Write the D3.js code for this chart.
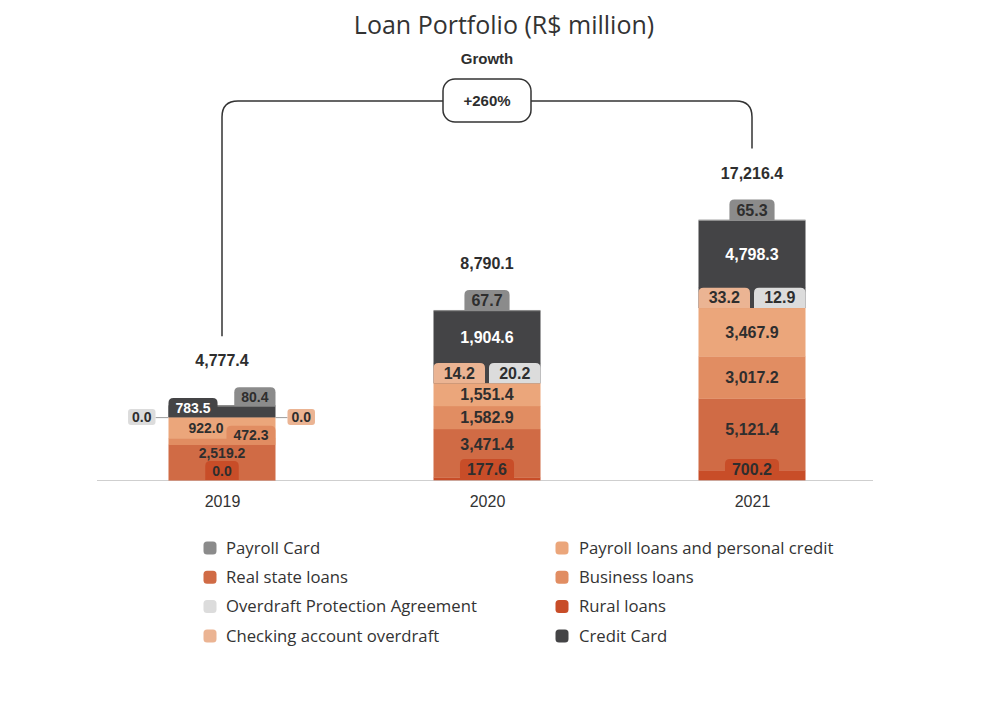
<!DOCTYPE html>
<html><head><meta charset="utf-8">
<script src="https://cdn.jsdelivr.net/npm/d3@7"></script>
<style>html,body{margin:0;padding:0;background:#fff;} svg{display:block}</style>
</head><body><svg id="chart" width="1008" height="716"></svg>
<script>
// ---------- data ----------
const years = ["2019", "2020", "2021"];
const ruralLoans = [0.0, 177.6, 700.2];
const realStateLoans = [2519.2, 3471.4, 5121.4];
const businessLoans = [472.3, 1582.9, 3017.2];
const payrollLoans = [922.0, 1551.4, 3467.9];
const checkingOverdraft = [0.0, 14.2, 33.2];
const overdraftProtection = [0.0, 20.2, 12.9];
const creditCard = [783.5, 1904.6, 4798.3];
const payrollCard = [80.4, 67.7, 65.3];
const totals = [4777.4, 8790.1, 17216.4];
const growthLabel = "+260%";
const legendLeft = ["Payroll Card", "Real state loans", "Overdraft Protection Agreement", "Checking account overdraft"];
const legendRight = ["Payroll loans and personal credit", "Business loans", "Rural loans", "Credit Card"];

// ---------- style ----------
const colors = {
  payrollCard: "#8b8b8b",
  realState: "#d06b45",
  overdraft: "#dcdcdc",
  checking: "#ebb493",
  payroll: "#eba67b",
  business: "#e18d62",
  rural: "#c84d28",
  credit: "#444446"
};
const legendLeftColors = [colors.payrollCard, colors.realState, colors.overdraft, colors.checking];
const legendRightColors = [colors.payroll, colors.business, colors.rural, colors.credit];
const place = {
  rural: ["tabC", "tabC", "tabC"],
  realState: ["in", "in", "in"],
  business: ["tabR", "in", "in"],
  payroll: ["inL", "in", "in"],
  credit: ["tabL", "in", "in"],
  payrollCard: ["tabR", "tabC", "tabC"]
};
const labelFont = "'Liberation Sans', Arial, Helvetica, sans-serif";
const textFont = "'Open Sans', 'Noto Sans', sans-serif";
const dark = "#2e2e2e";

const svg = d3.select("#chart");
const fmt = d3.format(",.1f");
const baseY = 480;
const x = d3.scalePoint().domain(years).range([222, 752]);
const y = d3.scaleLinear().domain([0, 18000]).range([baseY, 228]);
const barW = 107;

function topRound(x0, y0, w, h, r) {
  r = Math.min(r, h, w / 2);
  return `M${x0},${y0 + h}V${y0 + r}Q${x0},${y0} ${x0 + r},${y0}H${x0 + w - r}Q${x0 + w},${y0} ${x0 + w},${y0 + r}V${y0 + h}Z`;
}

// title
svg.append("text").attr("x", 504).attr("y", 34).attr("text-anchor", "middle")
  .attr("font-family", textFont).attr("font-size", 25).attr("fill", "#333")
  .text("Loan Portfolio (R$ million)");

// baseline + axis
svg.append("line").attr("x1", 97).attr("x2", 873).attr("y1", baseY + 0.5).attr("y2", baseY + 0.5)
  .attr("stroke", "#cfcfcf").attr("stroke-width", 1);
const axisG = svg.append("g").attr("transform", `translate(0,${baseY})`)
  .call(d3.axisBottom(x).tickSize(0).tickPadding(16));
axisG.select(".domain").remove();
axisG.selectAll("text").attr("font-family", labelFont).attr("font-size", 16).attr("fill", "#333");

const totalBase = [];

years.forEach((yr, i) => {
  const g = svg.append("g");
  const segLayer = g.append("g");
  const tabLayer = g.append("g");
  const labelLayer = g.append("g");
  const fs = i === 0 ? 14 : 16;
  const tabH = fs + 5;
  const minIn = fs + 7;
  const minDark = 52;
  const cx = x(yr);
  const x0 = cx - barW / 2, x1 = cx + barW / 2;
  let cur = baseY;
  let topMost = baseY;
  let obstacle = baseY;
  const hOf = v => baseY - y(v);

  function addTab(p, bottom, segTop, value, col, txtCol) {
    const tg = tabLayer.append("g");
    const path = tg.append("path").attr("fill", col);
    const t = tg.append("text").attr("font-family", labelFont).attr("font-weight", "bold")
      .attr("font-size", fs).attr("fill", txtCol).attr("text-anchor", "middle").text(fmt(value));
    const w = t.node().getComputedTextLength() + 14;
    const top = Math.min(segTop, bottom - tabH);
    let tx = p === "tabL" ? x0 : p === "tabR" ? x1 - w : cx - w / 2;
    path.attr("d", topRound(tx, top, w, bottom - top, 5));
    t.attr("x", tx + w / 2).attr("y", (top + bottom) / 2).attr("dy", "0.36em");
    topMost = Math.min(topMost, top);
    return top;
  }

  function addSeg(key, v, col, txtCol) {
    const p = place[key][i];
    let hh = hOf(v);
    const inside = p === "in" || p === "inL";
    if (inside) hh = Math.max(hh, key === "credit" ? minDark : minIn);
    const top = cur - hh;
    segLayer.append("rect").attr("x", x0).attr("y", top).attr("width", barW).attr("height", hh + 0.3).attr("fill", col);
    if (inside) {
      const bottom = Math.min(cur, obstacle);
      labelLayer.append("text").attr("x", p === "in" ? cx : x0 + barW * 0.35).attr("y", (top + bottom) / 2)
        .attr("dy", "0.36em").attr("text-anchor", "middle")
        .attr("font-family", labelFont).attr("font-weight", "bold").attr("font-size", fs)
        .attr("fill", txtCol).text(fmt(v));
      obstacle = baseY;
    } else {
      const tTop = addTab(p, cur, top, v, col, txtCol);
      obstacle = p === "tabC" ? tTop : baseY;
    }
    topMost = Math.min(topMost, top);
    cur = top;
  }

  addSeg("rural", ruralLoans[i], colors.rural, dark);
  addSeg("realState", realStateLoans[i], colors.realState, dark);
  addSeg("business", businessLoans[i], colors.business, dark);
  addSeg("payroll", payrollLoans[i], colors.payroll, dark);

  // checking / overdraft row
  const cv = checkingOverdraft[i], ov = overdraftProtection[i];
  if (cv + ov > 0) {
    const hh = Math.max(hOf(cv + ov), tabH - 1);
    const top = cur - hh;
    segLayer.append("rect").attr("x", x0).attr("y", top).attr("width", barW).attr("height", hh + 0.3).attr("fill", colors.credit);
    const gap = 4, w = (barW - gap) / 2;
    [[cv, colors.checking, x0], [ov, colors.overdraft, x0 + w + gap]].forEach(([v, col, tx]) => {
      tabLayer.append("path").attr("d", topRound(tx, top, w, hh + 0.3, 5)).attr("fill", col);
      labelLayer.append("text").attr("x", tx + w / 2).attr("y", top + hh / 2).attr("dy", "0.36em")
        .attr("text-anchor", "middle").attr("font-family", labelFont).attr("font-weight", "bold")
        .attr("font-size", fs).attr("fill", dark).text(fmt(v));
    });
    cur = top;
  } else {
    const ty = cur;
    [[ov, colors.overdraft, "left"], [cv, colors.checking, "right"]].forEach(([v, col, side]) => {
      const tg = tabLayer.append("g");
      const r = tg.append("rect").attr("fill", col).attr("rx", 3);
      const t = tg.append("text").attr("font-family", labelFont).attr("font-weight", "bold")
        .attr("font-size", fs).attr("fill", dark).attr("text-anchor", "middle").text(fmt(v));
      const w = t.node().getComputedTextLength() + 8, th = fs + 2;
      const rx0 = side === "left" ? x0 - 13 - w : x1 + 12;
      r.attr("x", rx0).attr("y", ty - th / 2).attr("width", w).attr("height", th);
      t.attr("x", rx0 + w / 2).attr("y", ty).attr("dy", "0.36em");
      tg.insert("line", ":first-child")
        .attr("x1", side === "left" ? rx0 + w : x1).attr("x2", side === "left" ? x0 : rx0)
        .attr("y1", ty + 0.5).attr("y2", ty + 0.5).attr("stroke", "#9a9a9a").attr("stroke-width", 1);
    });
  }

  addSeg("credit", creditCard[i], colors.credit, "#ffffff");
  addSeg("payrollCard", payrollCard[i], colors.payrollCard, dark);

  const tb = topMost - 21;
  totalBase.push(tb);
  svg.append("text").attr("x", cx).attr("y", tb).attr("text-anchor", "middle")
    .attr("font-family", labelFont).attr("font-weight", "bold").attr("font-size", 16)
    .attr("fill", dark).text(fmt(totals[i]));
});

// growth bracket
const xL = x(years[0]), xR = x(years[years.length - 1]);
const topY = 101, rr = 16;
svg.append("path")
  .attr("d", `M${xL},${totalBase[0] - 30}V${topY + rr}Q${xL},${topY} ${xL + rr},${topY}H${xR - rr}Q${xR},${topY} ${xR},${topY + rr}V${totalBase[totalBase.length - 1] - 30}`)
  .attr("fill", "none").attr("stroke", "#333").attr("stroke-width", 1.5);
const bx = (xL + xR) / 2;
svg.append("rect").attr("x", bx - 44).attr("y", 79).attr("width", 88).attr("height", 43).attr("rx", 12)
  .attr("fill", "#fff").attr("stroke", "#333").attr("stroke-width", 1.5);
svg.append("text").attr("x", bx).attr("y", 100.5).attr("dy", "0.36em").attr("text-anchor", "middle")
  .attr("font-family", labelFont).attr("font-weight", "bold").attr("font-size", 15).attr("fill", dark)
  .text(growthLabel);
svg.append("text").attr("x", bx).attr("y", 59).attr("dy", "0.36em").attr("text-anchor", "middle")
  .attr("font-family", labelFont).attr("font-weight", "bold").attr("font-size", 15).attr("fill", dark)
  .text("Growth");

// legend
function legendCol(names, cols, mx, tx) {
  names.forEach((n, k) => {
    const cy = 548 + k * 29.3;
    svg.append("rect").attr("x", mx - 6.5).attr("y", cy - 6.5).attr("width", 13).attr("height", 13)
      .attr("rx", 3.5).attr("fill", cols[k]);
    svg.append("text").attr("x", tx).attr("y", cy).attr("dy", "0.35em")
      .attr("font-family", textFont).attr("font-size", 16.7).attr("fill", "#333").text(n);
  });
}
legendCol(legendLeft, legendLeftColors, 210, 226);
legendCol(legendRight, legendRightColors, 562, 579);
</script>
</body></html>
